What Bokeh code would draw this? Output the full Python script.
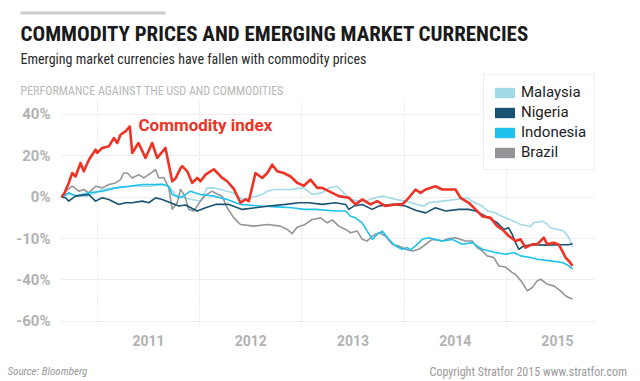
from bokeh.plotting import figure
from bokeh.models import Label, FixedTicker, Legend, LegendItem, Range1d, BoxAnnotation
from bokeh.embed import file_html
from bokeh.resources import INLINE

# ---------------- data (decimal years, % change) ----------------
commodity_year = [2010.648, 2010.677, 2010.719, 2010.753, 2010.785, 2010.834, 2010.866, 2010.915, 2010.981, 2010.997,
                  2011.046, 2011.111, 2011.160, 2011.193, 2011.225, 2011.274, 2011.316, 2011.340, 2011.401, 2011.470,
                  2011.535, 2011.584, 2011.665, 2011.731, 2011.763, 2011.812, 2011.829, 2011.878, 2011.927, 2011.976,
                  2012.008, 2012.057, 2012.138, 2012.220, 2012.269, 2012.334, 2012.399, 2012.448, 2012.481, 2012.546,
                  2012.612, 2012.661, 2012.710, 2012.758, 2012.823, 2012.889, 2012.954, 2013.019, 2013.084, 2013.150,
                  2013.199, 2013.263, 2013.361, 2013.459, 2013.525, 2013.590, 2013.671, 2013.737, 2013.818, 2013.916,
                  2013.982, 2014.046, 2014.112, 2014.161, 2014.210, 2014.307, 2014.373, 2014.438, 2014.503, 2014.552,
                  2014.633, 2014.699, 2014.764, 2014.846, 2014.911, 2014.960, 2015.025, 2015.090, 2015.139, 2015.188,
                  2015.254, 2015.302, 2015.367, 2015.400, 2015.465, 2015.514, 2015.547, 2015.579, 2015.612, 2015.648]
commodity_pct = [0, 2, 6.9, 11.7, 10, 16.5, 12.5, 18, 23, 21.4,
                 23.8, 24.6, 28.6, 26.2, 30.2, 31.8, 34.2, 21.4, 26.2, 19,
                 26.2, 19, 23.8, 7.7, 9, 14, 15, 12.5, 6.9, 9.3,
                 7.7, 10.9, 13.5, 9.3, 7.7, 4, -2.7, -1.1, -1.9, 11.7,
                 9.3, 11.7, 15.7, 12.5, 11.7, 10, 7, 5.5, 8.5, 4.5,
                 4.5, 2.9, 0.5, -0.3, -3.5, -1.1, -3.5, -1.9, -4.3, -3.5,
                 -3.5, -0.3, 3.7, 2.1, 3.7, 5.3, 3.7, 3.7, 3.7, -0.3,
                 -2.7, -5.9, -9.2, -10, -14, -15.6, -18.8, -21.2, -20.4, -24.4,
                 -22.8, -22.8, -19.6, -22.8, -22, -23, -26, -29.2, -30.8, -33.3]

malaysia_year = [2010.648, 2010.736, 2010.785, 2010.899, 2010.981, 2011.046, 2011.176, 2011.340, 2011.499, 2011.633,
                 2011.682, 2011.714, 2011.763, 2011.845, 2011.910, 2012.008, 2012.074, 2012.135, 2012.204, 2012.331,
                 2012.416, 2012.497, 2012.612, 2012.661, 2012.725, 2012.889, 2013.019, 2013.101, 2013.199, 2013.263,
                 2013.346, 2013.410, 2013.476, 2013.557, 2013.622, 2013.720, 2013.802, 2013.916, 2014.014, 2014.128,
                 2014.193, 2014.242, 2014.373, 2014.503, 2014.617, 2014.689, 2014.764, 2014.816, 2014.894, 2014.943,
                 2014.992, 2015.074, 2015.139, 2015.237, 2015.269, 2015.351, 2015.400, 2015.433, 2015.563, 2015.612,
                 2015.648]
malaysia_pct = [0, 1.5, 1, 0.5, 2, 3.7, 4.5, 5.3, 5.3, 6.1,
                5.5, 4.5, 1, -0.3, -1, -1.9, 4.5, 4.5, 3.7, 2,
                -1.1, -0.3, 1.3, 2.9, 3.7, 3.7, 4.5, 1.3, 2.1, 4.5,
                5.3, 2.1, -1.1, -1.9, -1.9, -0.3, 0.5, -1.1, -1.9, -3.5,
                -4.3, -2.7, -1.9, -1.1, -0.3, -2.7, -4.3, -6.7, -7.6, -9,
                -10, -11.6, -13.2, -14.2, -12.4, -11.6, -13, -14.8, -16.4, -19.6,
                -24]

nigeria_year = [2010.648, 2010.687, 2010.719, 2010.785, 2010.915, 2010.981, 2011.046, 2011.111, 2011.209, 2011.274,
                2011.340, 2011.438, 2011.502, 2011.568, 2011.633, 2011.714, 2011.796, 2011.861, 2011.976, 2012.057,
                2012.155, 2012.285, 2012.416, 2012.546, 2012.676, 2012.840, 2012.970, 2013.068, 2013.199, 2013.329,
                2013.427, 2013.459, 2013.508, 2013.590, 2013.688, 2013.753, 2013.884, 2014.014, 2014.112, 2014.210,
                2014.307, 2014.405, 2014.535, 2014.633, 2014.699, 2014.829, 2014.911, 2014.976, 2015.022, 2015.058,
                2015.090, 2015.123, 2015.171, 2015.237, 2015.384, 2015.530, 2015.609, 2015.648]
nigeria_pct = [0, -0.3, -1.9, 0.5, 1.3, -1.9, -0.3, -1.1, -3.5, -2.7,
               -2.7, -1.9, -2.7, -0.3, -1.1, -2.7, -4.3, -3.8, -6.7, -5.1,
               -3.5, -3.5, -5.9, -5.1, -4.3, -3.5, -2.7, -2.7, -3.5, -2.7,
               -3.5, -5.9, -4.3, -3.5, -5.9, -4.3, -3.5, -4.3, -6.3, -7.6,
               -5.1, -6.7, -5.9, -5.9, -6.7, -10, -12.4, -15.6, -14.8, -18,
               -22, -25.2, -23.6, -23, -23.2, -23, -23, -22.5]

indonesia_year = [2010.648, 2010.719, 2010.785, 2010.915, 2011.046, 2011.176, 2011.306, 2011.438, 2011.568, 2011.633,
                  2011.698, 2011.731, 2011.812, 2011.910, 2012.008, 2012.138, 2012.269, 2012.399, 2012.595, 2012.758,
                  2012.905, 2013.019, 2013.133, 2013.329, 2013.427, 2013.476, 2013.525, 2013.590, 2013.639, 2013.688,
                  2013.737, 2013.786, 2013.850, 2013.916, 2013.982, 2014.030, 2014.063, 2014.128, 2014.177, 2014.242,
                  2014.373, 2014.471, 2014.569, 2014.666, 2014.764, 2014.894, 2014.992, 2015.074, 2015.139, 2015.237,
                  2015.302, 2015.433, 2015.547, 2015.612, 2015.648]
indonesia_pct = [0, 2.1, 0.5, 2.1, 2.9, 4.5, 5.3, 6.1, 6.1, 6.3,
                 5.3, 1.3, -0.3, 2.9, 1.3, 0.5, -1.1, -3.5, -4.3, -4.7,
                 -5.1, -5.9, -5.9, -6.7, -6.7, -9.2, -10, -12.4, -16.4, -20.4,
                 -18, -16.4, -20.4, -23.6, -25.2, -24.4, -25.5, -22.8, -20.4, -19.6,
                 -21.2, -20.4, -22.8, -22, -25.2, -26.8, -27.6, -26.8, -28.4, -29.2,
                 -30, -30.8, -31.6, -33.2, -34.8]

brazil_year = [2010.648, 2010.687, 2010.753, 2010.817, 2010.866, 2010.915, 2010.981, 2011.046, 2011.111, 2011.176,
               2011.225, 2011.257, 2011.291, 2011.340, 2011.404, 2011.453, 2011.502, 2011.568, 2011.600, 2011.649,
               2011.698, 2011.731, 2011.780, 2011.812, 2011.851, 2011.893, 2011.942, 2012.008, 2012.057, 2012.122,
               2012.171, 2012.220, 2012.269, 2012.334, 2012.399, 2012.530, 2012.661, 2012.791, 2012.856, 2012.905,
               2012.954, 2013.019, 2013.101, 2013.182, 2013.248, 2013.297, 2013.361, 2013.427, 2013.476, 2013.541,
               2013.590, 2013.639, 2013.688, 2013.753, 2013.818, 2013.884, 2013.948, 2014.014, 2014.079, 2014.144,
               2014.193, 2014.275, 2014.373, 2014.438, 2014.503, 2014.601, 2014.666, 2014.715, 2014.764, 2014.813,
               2014.878, 2014.927, 2014.992, 2015.058, 2015.090, 2015.156, 2015.205, 2015.254, 2015.302, 2015.335,
               2015.400, 2015.465, 2015.530, 2015.579, 2015.612, 2015.648]
brazil_pct = [0, 2.9, 5.3, 2.9, 3.7, 2.1, 5.3, 4.5, 6.1, 6.9,
              8.5, 11.7, 11.7, 9.3, 10.9, 9.3, 10.9, 13.3, 9.3, 9.5,
              4.5, -5.9, -2.7, 3.7, 1, -5.9, -6.7, -1.9, 1, 2.9,
              1.5, 0.5, -5.1, -10, -13.2, -14, -13.2, -14, -15.6, -17.6,
              -14.5, -13.5, -10.8, -10, -12.4, -11, -14, -15.6, -17.2, -16.4,
              -20.4, -21.2, -18.8, -17.2, -18.8, -22.8, -23.6, -25.2, -26, -25.2,
              -23.5, -20.4, -21.2, -20, -19.6, -21.2, -21.2, -24.4, -26, -28.4,
              -29.2, -33.3, -33.8, -36.5, -37.3, -41.3, -45.3, -43.7, -40.5, -39.7,
              -42.1, -42.9, -45.3, -47.7, -48.5, -49.3]

y_ticks = [-60, -40, -20, 0, 20, 40]
y_tick_labels = ["-60%", "-40%", "-10%", "0%", "20%", "40%"]
years = [2011, 2012, 2013, 2014, 2015]

legend_names = ["Malaysia", "Nigeria", "Indonesia", "Brazil"]
colors = {"Malaysia": "#a2dae7", "Nigeria": "#1a5372", "Indonesia": "#1ec2ec", "Brazil": "#949598"}
RED = "#ee3326"

# ---------------- figure (frame = whole canvas; axes pinned with fixed_location) ----------------
FONT = "Roboto"
NARROW = "Liberation Sans Narrow, Roboto Condensed, DejaVu Sans Condensed, Roboto"
X0, X1 = 2010.648, 2015.863      # plotted area
Y0, Y1 = -62.56, 46.77

p = figure(width=640, height=381, output_backend="svg", toolbar_location=None, title=None,
           x_range=Range1d(2010.051, 2016.313), y_range=Range1d(-89.17, 95.15),
           min_border_left=0, min_border_right=0, min_border_top=0, min_border_bottom=0)
p.outline_line_color = None
p.background_fill_color = "white"
p.border_fill_color = "white"

# axes
p.yaxis.fixed_location = X0
p.xaxis.fixed_location = Y0
p.yaxis.ticker = FixedTicker(ticks=y_ticks)
p.yaxis.major_label_overrides = {t: l for t, l in zip(y_ticks, y_tick_labels)}
mid = [y + 0.5 for y in years]
p.xaxis.ticker = FixedTicker(ticks=mid)
p.xaxis.major_label_overrides = {m: str(y) for m, y in zip(mid, years)}
for ax in (p.xaxis[0], p.yaxis[0]):
    ax.axis_line_color = None
    ax.major_tick_line_color = None
    ax.minor_tick_line_color = None
    ax.major_label_text_color = "#b3b3b3"
    ax.major_label_text_font = FONT
    ax.major_label_text_font_style = "bold"
p.yaxis.major_label_text_font_size = "15px"
p.xaxis.major_label_text_font_size = "14px"
p.yaxis.major_label_standoff = 5
p.xaxis.major_label_standoff = 3

p.ygrid.grid_line_color = "#eeeeee"
p.xgrid.ticker = FixedTicker(ticks=years)
p.xgrid.grid_line_color = "#d5d5d5"
p.xgrid.grid_line_dash = "1 2"

# white masks that limit the grid to the plotted area
for kw in (dict(right=X0), dict(left=X1), dict(bottom=Y1), dict(top=Y0)):
    p.add_layout(BoxAnnotation(fill_color="white", fill_alpha=1, line_color=None, level="underlay", **kw))

# lines
for name, xs, ys in [("Malaysia", malaysia_year, malaysia_pct),
                     ("Brazil", brazil_year, brazil_pct),
                     ("Indonesia", indonesia_year, indonesia_pct),
                     ("Nigeria", nigeria_year, nigeria_pct)]:
    p.line(xs, ys, line_color=colors[name], line_width=1.6, line_join="round")
p.line(commodity_year, commodity_pct, line_color=RED, line_width=2.6, line_join="round")

# legend with square swatches (zero-area quads at each series' first point)
series_first = {"Malaysia": (malaysia_year[0], malaysia_pct[0]), "Nigeria": (nigeria_year[0], nigeria_pct[0]),
                "Indonesia": (indonesia_year[0], indonesia_pct[0]), "Brazil": (brazil_year[0], brazil_pct[0])}
items = []
for name in legend_names:
    fx, fy = series_first[name]
    r = p.quad(left=[fx], right=[fx], top=[fy], bottom=[fy], fill_color=colors[name], line_color=None)
    items.append(LegendItem(label=name, renderers=[r]))
legend = Legend(items=items, location=(483, 211), orientation="vertical",
                border_line_color="#dddddd", border_line_width=1, background_fill_color="white",
                padding=8, spacing=2, margin=0, label_height=18, glyph_height=13, glyph_width=25,
                label_standoff=4, label_text_font=FONT, label_text_font_size="15px",
                label_text_color="#222222")
p.add_layout(legend, "center")

# annotation
p.add_layout(Label(x=2011.401, y=34.7, text="Commodity index", text_color=RED,
                   text_font=FONT, text_font_style="bold", text_font_size="17px",
                   text_baseline="middle"))

# header (screen units: x from left, y from bottom of the 381px canvas)
p.add_layout(BoxAnnotation(left=20, right=165, bottom=367, top=370,
                           left_units="screen", right_units="screen", top_units="screen", bottom_units="screen",
                           fill_color="#cccccc", fill_alpha=1, line_color=None))
p.add_layout(Label(x=20, y=348, x_units="screen", y_units="screen",
                   text="COMMODITY PRICES AND EMERGING MARKET CURRENCIES",
                   text_font=NARROW, text_font_style="bold", text_font_size="21px",
                   text_color="#1a1a1a", text_baseline="middle"))
p.add_layout(Label(x=20, y=323, x_units="screen", y_units="screen",
                   text="Emerging market currencies have fallen with commodity prices",
                   text_font=NARROW, text_font_size="14px",
                   text_color="#2a2a2a", text_baseline="middle"))
p.add_layout(Label(x=20, y=291, x_units="screen", y_units="screen",
                   text="PERFORMANCE AGAINST THE USD AND COMMODITIES",
                   text_font=NARROW, text_font_size="12px",
                   text_color="#b8b8b8", text_baseline="middle"))

# footer
p.add_layout(Label(x=7, y=10, x_units="screen", y_units="screen",
                   text="Source: Bloomberg", text_font=NARROW, text_font_style="italic",
                   text_font_size="11px", text_color="#9a9a9a", text_baseline="middle"))
p.add_layout(Label(x=632, y=10, x_units="screen", y_units="screen",
                   text="Copyright Stratfor 2015   www.stratfor.com", text_font=NARROW,
                   text_font_size="12px", text_color="#9a9a9a", text_baseline="middle",
                   text_align="right"))

open("out.html", "w").write(file_html(p, INLINE))
